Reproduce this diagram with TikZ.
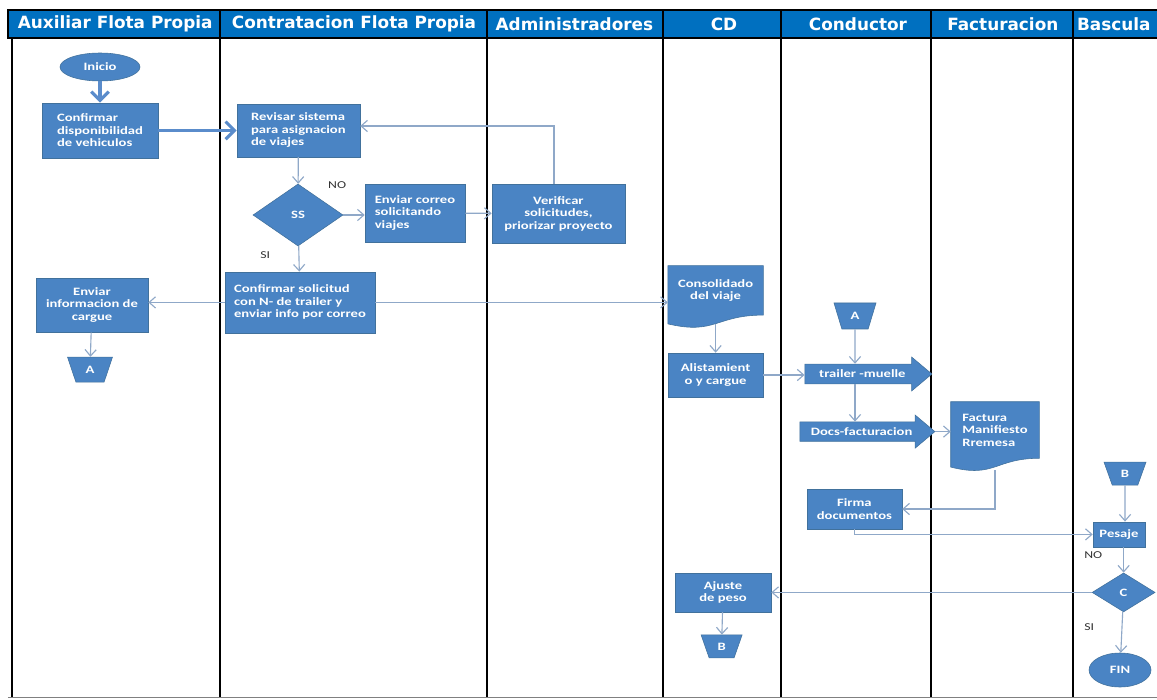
\documentclass[tikz,border=0pt]{standalone}
\usepackage{fontspec}
\setsansfont{DejaVu Sans}
\newfontfamily\boxfont[FakeStretch=1.3]{Carlito}
\usepackage{tikz}
\usetikzlibrary{arrows.meta,positioning,shapes.geometric,shapes.arrows,backgrounds,calc}
\definecolor{hdr}{HTML}{0070C0}
\definecolor{boxfill}{HTML}{4A84C4}
\definecolor{boxline}{HTML}{41719C}
\definecolor{link}{HTML}{8FA8C8}
\definecolor{thicklink}{HTML}{5A8CCB}
\definecolor{tagtext}{HTML}{333333}
\tikzset{
  lane/.style={line width=2pt, black},
  lanehead/.style={font=\sffamily\bfseries\fontsize{12}{14}\selectfont, text=white, inner sep=0pt},
  box/.style={draw=boxline, fill=boxfill, text=white, inner sep=3pt, font=\boxfont\bfseries\fontsize{8}{8.9}\selectfont},
  proc/.style={box, rectangle, align=center},
  procl/.style={box, rectangle, align=left},
  terminal/.style={box, ellipse, inner sep=1pt},
  decision/.style={box, diamond, inner sep=1pt},
  offpage/.style={box, trapezium, trapezium stretches=true, trapezium left angle=70, trapezium right angle=70, shape border rotate=180, inner sep=0pt},
  flagarrow/.style={box, single arrow, single arrow head extend=0.15cm, single arrow tip angle=80, single arrow head indent=0cm},
  docnode/.style={rectangle, text=white, inner sep=3pt, font=\boxfont\bfseries\fontsize{8}{8.9}\selectfont},
  edge/.style={-{Straight Barb[length=1.6mm,width=2.8mm]}, link, line width=0.8pt},
  thickedge/.style={-{Straight Barb[length=2.2mm,width=4.4mm]}, thicklink, line width=2.2pt},
  tag/.style={font=\boxfont\fontsize{7.5}{8}\selectfont, text=tagtext, inner sep=1pt},
}
% filled document shape behind a docnode
\newcommand{\docshape}[1]{%
  \begin{pgfonlayer}{background}
    \filldraw[draw=boxline, fill=boxfill] (#1.north west) -- (#1.north east) -- (#1.south east)
      .. controls (#1.south) and ([yshift=-0.5cm]#1.south) .. ([yshift=-0.22cm]#1.south west) -- cycle;
  \end{pgfonlayer}}

\begin{document}
\begin{tikzpicture}
  \useasboundingbox (0,0) rectangle (28.925,-17.5);
  \clip (0,0) rectangle (28.925,-17.5);
  \begin{pgfonlayer}{background}
    \fill[white] (0,0) rectangle (28.925,-17.5);
  \end{pgfonlayer}

  % swimlanes
  \draw[fill=hdr, line width=1pt] (0.2,-0.25) rectangle (29.2,-0.95);
  \foreach \x in {5.5,12.175,16.575,19.525,23.275,26.825}
    \draw[line width=1pt] (\x,-0.25) -- (\x,-0.95);
  \foreach \x in {0.3,5.5,12.175,16.575,19.525,23.275,26.825}
    \draw[lane] (\x,-0.95) -- (\x,-17.45);
  \draw[gray, line width=0.6pt] (0.2,-17.43) -- (29.2,-17.43);
  \node[lanehead] (h1) at (2.88,-0.6) {Auxiliar Flota Propia};
  \node[lanehead] (h2) at (8.85,-0.6) {Contratacion Flota Propia};
  \node[lanehead] (h3) at (14.36,-0.6) {Administradores};
  \node[lanehead] (h4) at (18.1,-0.6) {CD};
  \node[lanehead] (h5) at (21.45,-0.6) {Conductor};
  \node[lanehead] (h6) at (25.07,-0.6) {Facturacion};
  \node[lanehead, anchor=west] (h7) at (26.92,-0.6) {Bascula};

  % Auxiliar Flota Propia
  \node[terminal, minimum width=2.0cm, minimum height=0.7cm] (ini) at (2.5,-1.675) {Inicio};
  \node[procl, minimum width=2.9cm, minimum height=1.375cm] (cf) at (2.5,-3.26) {Confirmar\\disponibilidad\\de vehiculos};
  \node[proc, minimum width=2.8cm, minimum height=1.35cm] (ei) at (2.3,-7.625) {Enviar\\informacion de\\cargue};
  \node[offpage, minimum width=1.125cm, minimum height=0.625cm] (a1) at (2.25,-9.24) {A};

  % Contratacion Flota Propia
  \node[procl, minimum width=3.075cm, minimum height=1.325cm] (rev) at (7.46,-3.26) {Revisar sistema\\para asignacion\\de viajes};
  \node[decision, minimum width=2.25cm, minimum height=1.55cm] (ss) at (7.45,-5.375) {SS};
  \node[procl, minimum width=2.5cm, minimum height=1.45cm] (env) at (10.375,-5.325) {Enviar correo\\solicitando\\viajes};
  \node[procl, minimum width=3.75cm, minimum height=1.525cm] (cs) at (7.5,-7.56) {Confirmar solicitud\\con N- de trailer y\\enviar info por correo};
  \node[tag] (no1) at (8.43,-4.62) {NO};
  \node[tag] (si1) at (6.63,-6.38) {SI};

  % Administradores
  \node[proc, minimum width=3.325cm, minimum height=1.475cm] (ver) at (13.96,-5.34) {Verificar\\solicitudes,\\priorizar proyecto};

  % CD
  \node[docnode, align=center, minimum width=2.375cm, minimum height=1.22cm] (cons) at (17.89,-7.26) {Consolidado\\del viaje};
  \docshape{cons}
  \node[proc, minimum width=2.375cm, minimum height=1.1cm] (ali) at (17.89,-9.375) {Alistamient\\o y cargue};
  \node[proc, minimum width=2.4cm, minimum height=0.975cm] (aj) at (18.075,-14.81) {Ajuste\\de peso};
  \node[offpage, minimum width=1.025cm, minimum height=0.575cm] (b2) at (18.04,-16.16) {B};

  % Conductor
  \node[offpage, minimum width=1.05cm, minimum height=0.65cm] (a2) at (21.375,-7.9) {A};
  \node[flagarrow, minimum height=3.175cm, minimum width=0.85cm] (tm) at (21.56,-9.35) {trailer -muelle};
  \node[flagarrow, minimum height=3.375cm, minimum width=0.825cm] (docs) at (21.54,-10.79) {Docs-facturacion};
  \node[proc, minimum width=2.375cm, minimum height=1.0cm] (fir) at (21.36,-12.725) {Firma\\documentos};

  % Facturacion
  \node[docnode, align=left, minimum width=2.2cm, minimum height=1.4cm] (fac) at (24.875,-10.75) {Factura\\Manifiesto\\Rremesa};
  \docshape{fac}

  % Bascula
  \node[offpage, minimum width=1.05cm, minimum height=0.575cm] (b1) at (28.125,-11.84) {B};
  \node[proc, minimum width=1.3cm, minimum height=0.625cm] (pes) at (27.975,-13.36) {Pesaje};
  \node[decision, minimum width=1.575cm, minimum height=0.975cm] (c) at (28.09,-14.81) {C};
  \node[terminal, minimum width=1.55cm, minimum height=0.85cm] (fin) at (28.0,-16.75) {FIN};
  \node[tag] (no2) at (27.33,-13.88) {NO};
  \node[tag] (si2) at (27.23,-15.68) {SI};

  % connectors
  \draw[thickedge] (ini) -- (cf);
  \draw[thickedge] (cf) -- (rev);
  \draw[edge] ([xshift=-0.11cm]ver.north) |- ([yshift=0.11cm]rev.east);
  \draw[edge] (rev) -- (ss);
  \draw[edge] (ss) -- (ss -| env.west);
  \draw[edge] (env) -- (ver);
  \draw[edge] (ss) -- (cs);
  \draw[edge] (cs) -- (cs -| ei.east);
  \draw[edge] (ei) -- (a1);
  \draw[edge] (cs.east) -- (cs.east -| cons.west);
  \draw[edge] ([yshift=-0.22cm]cons.south) -- (ali);
  \draw[edge] (ali.east) -- (ali.east -| tm.west);
  \draw[edge] (a2) -- (a2 |- tm.north);
  \draw[edge] (a2 |- tm.south) -- (a2 |- docs.north);
  \draw[edge] (docs.east) -- (docs.east -| fac.west);
  \draw[edge] ([yshift=-0.3cm]fac.south) |- (fir.east);
  \draw[edge] (fir.south) |- (pes.west);
  \draw[edge] (b1) -- (b1 |- pes.north);
  \draw[edge] (c.north |- pes.south) -- (c);
  \draw[edge] (c) -- (c -| aj.east);
  \draw[edge] (aj) -- (b2);
  \draw[edge] (c) -- (fin);
\end{tikzpicture}
\end{document}
